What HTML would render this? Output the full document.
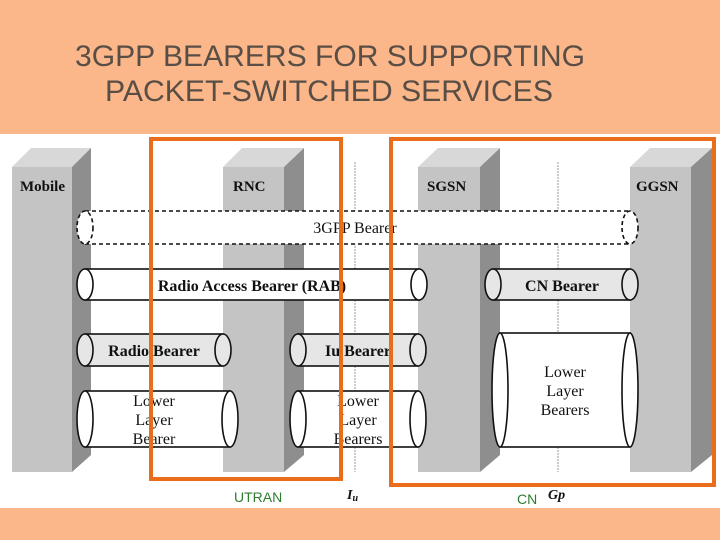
<!DOCTYPE html>
<html><head><meta charset="utf-8"><style>
html,body{margin:0;padding:0;width:720px;height:540px;overflow:hidden;background:#fff}
</style></head><body>
<svg width="720" height="540" viewBox="0 0 720 540" xmlns="http://www.w3.org/2000/svg">
<rect x="0" y="0" width="720" height="134" fill="#fbb68a"/>
<rect x="0" y="508" width="720" height="32" fill="#fbb68a"/>
<g font-family="Liberation Sans, sans-serif" font-size="30" fill="#584e46" text-anchor="middle">
<text x="330" y="66" textLength="510" lengthAdjust="spacingAndGlyphs">3GPP BEARERS FOR SUPPORTING</text>
<text x="329" y="101" textLength="448" lengthAdjust="spacingAndGlyphs">PACKET-SWITCHED SERVICES</text>
</g>
<g>
<polygon points="12,167 31,148 91,148 72,167" fill="#d8d8d8"/>
<rect x="12" y="167" width="60" height="305" fill="#c4c4c4"/>
<polygon points="72,167 91,148 91,455 72,472" fill="#8e8e8e"/>
<polygon points="223,167 242,148 304,148 284,167" fill="#d8d8d8"/>
<rect x="223" y="167" width="61" height="305" fill="#c4c4c4"/>
<polygon points="284,167 304,148 304,455 284,472" fill="#8e8e8e"/>
<polygon points="418,167 438,148 500,148 480,167" fill="#d8d8d8"/>
<rect x="418" y="167" width="62" height="305" fill="#c4c4c4"/>
<polygon points="480,167 500,148 500,455 480,472" fill="#8e8e8e"/>
<polygon points="630,167 650,148 712,148 691,167" fill="#d8d8d8"/>
<rect x="630" y="167" width="61" height="305" fill="#c4c4c4"/>
<polygon points="691,167 712,148 712,455 691,472" fill="#8e8e8e"/>
</g>
<line x1="355" y1="162" x2="355" y2="472" stroke="#999" stroke-width="1" stroke-dasharray="2,1"/>
<line x1="558" y1="162" x2="558" y2="472" stroke="#999" stroke-width="1" stroke-dasharray="2,1"/>
<g font-family="Liberation Serif, serif" font-weight="bold" font-size="15" fill="#111">
<text x="20" y="191">Mobile</text>
<text x="233" y="191">RNC</text>
<text x="427" y="191">SGSN</text>
<text x="636" y="191">GGSN</text>
</g>
<g stroke="#111" stroke-width="1.6">
<rect x="85" y="211" width="545" height="33" fill="#fff" stroke="none"/>
<line x1="85" y1="211" x2="630" y2="211" stroke-dasharray="4,3"/>
<line x1="85" y1="244" x2="630" y2="244" stroke-dasharray="4,3"/>
<ellipse cx="85" cy="227.5" rx="8" ry="16.5" fill="#fff" stroke-dasharray="4,3"/>
<ellipse cx="630" cy="227.5" rx="8" ry="16.5" fill="#fff" stroke-dasharray="4,3"/>
<rect x="85" y="269" width="334" height="31" fill="#fff"/>
<ellipse cx="85" cy="284.5" rx="8" ry="15.5" fill="#fff"/>
<ellipse cx="419" cy="284.5" rx="8" ry="15.5" fill="#fff"/>
<rect x="493" y="269" width="137" height="31" fill="#e6e6e6"/>
<ellipse cx="493" cy="284.5" rx="8" ry="15.5" fill="#e6e6e6"/>
<ellipse cx="630" cy="284.5" rx="8" ry="15.5" fill="#e6e6e6"/>
<rect x="85" y="334" width="138" height="32" fill="#e6e6e6"/>
<ellipse cx="85" cy="350" rx="8" ry="16" fill="#e6e6e6"/>
<ellipse cx="223" cy="350" rx="8" ry="16" fill="#e6e6e6"/>
<rect x="298" y="334" width="120" height="32" fill="#e6e6e6"/>
<ellipse cx="298" cy="350" rx="8" ry="16" fill="#e6e6e6"/>
<ellipse cx="418" cy="350" rx="8" ry="16" fill="#e6e6e6"/>
<rect x="85" y="391" width="145" height="56" fill="#fff"/>
<ellipse cx="85" cy="419" rx="8" ry="28" fill="#fff"/>
<ellipse cx="230" cy="419" rx="8" ry="28" fill="#fff"/>
<rect x="298" y="391" width="120" height="56" fill="#fff"/>
<ellipse cx="298" cy="419" rx="8" ry="28" fill="#fff"/>
<ellipse cx="418" cy="419" rx="8" ry="28" fill="#fff"/>
<rect x="500" y="333" width="130" height="114" fill="#fff"/>
<ellipse cx="500" cy="390" rx="8" ry="57" fill="#fff"/>
<ellipse cx="630" cy="390" rx="8" ry="57" fill="#fff"/>
</g>
<g font-family="Liberation Serif, serif" font-size="16" fill="#111" text-anchor="middle">
<text x="355" y="233">3GPP Bearer</text>
<text x="252" y="291" font-weight="bold">Radio Access Bearer (RAB)</text>
<text x="562" y="291" font-weight="bold">CN Bearer</text>
<text x="154" y="356" font-weight="bold">Radio Bearer</text>
<text x="358" y="356" font-weight="bold">Iu Bearer</text>
<text x="154" y="406">Lower</text><text x="154" y="425">Layer</text><text x="154" y="444">Bearer</text>
<text x="358" y="406">Lower</text><text x="358" y="425">Layer</text><text x="358" y="444">Bearers</text>
<text x="565" y="377">Lower</text><text x="565" y="396">Layer</text><text x="565" y="415">Bearers</text>
</g>
<rect x="151" y="139" width="190" height="340" fill="none" stroke="#ea6d1c" stroke-width="4"/>
<rect x="391" y="139" width="323" height="346" fill="none" stroke="#ea6d1c" stroke-width="4"/>
<g font-family="Liberation Sans, sans-serif" font-size="14" fill="#2e7d2e">
<text x="234" y="502">UTRAN</text>
<text x="517" y="504">CN</text>
</g>
<g font-family="Liberation Serif, serif" font-style="italic" font-weight="bold" font-size="14" fill="#111">
<text x="347" y="499">I<tspan font-size="10" dy="2">u</tspan></text>
<text x="548" y="499">Gp</text>
</g>
</svg>
</body></html>
